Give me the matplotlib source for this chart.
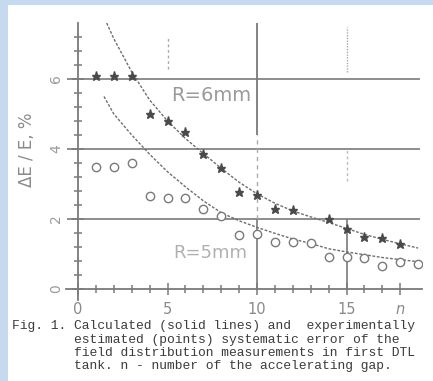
import matplotlib
matplotlib.use("Agg")
import matplotlib.pyplot as plt
from matplotlib.patches import Rectangle

# ---------------- data ----------------
star_n = [1, 2, 3, 4, 5, 6, 7, 8, 9, 10, 11, 12, 14, 15, 16, 17, 18]
star_v = [6.1, 6.1, 6.1, 5.0, 4.8, 4.5, 3.86, 3.45, 2.77, 2.7, 2.28, 2.25,
          2.0, 1.71, 1.49, 1.46, 1.29]

circ_n = [1, 2, 3, 4, 5, 6, 7, 8, 9, 10, 11, 12, 13, 14, 15, 16, 17, 18, 19]
circ_v = [3.49, 3.5, 3.6, 2.66, 2.6, 2.6, 2.28, 2.1, 1.54, 1.57, 1.34, 1.34,
          1.31, 0.91, 0.91, 0.89, 0.66, 0.77, 0.71]

calc6_n = [1.6, 2, 3, 4, 5, 6, 7, 8, 9, 10, 11, 12, 13, 14, 15, 16, 17, 18, 19]
calc6_v = [7.6, 7.15, 6.2, 5.4, 4.8, 4.3, 3.87, 3.45, 3.05, 2.72, 2.45, 2.23,
           2.06, 1.9, 1.73, 1.56, 1.42, 1.29, 1.17]

calc5_n = [1.45, 2, 3, 4, 5, 6, 7, 8, 9, 10, 11, 12, 13, 14, 15, 16, 17, 18, 19, 19.3]
calc5_v = [5.5, 5.0, 4.4, 3.85, 3.35, 2.92, 2.52, 2.18, 1.95, 1.76, 1.59, 1.43,
           1.3, 1.15, 1.06, 0.98, 0.9, 0.84, 0.78, 0.77]

x_ticks = [0, 5, 10, 15, 18]
x_ticklabels = ["0", "5", "10", "15", "n"]
y_ticks = [0, 2, 4, 6]
y_ticklabels = ["0", "2", "4", "6"]
ylabel = "ΔE / E, %"
label6 = "R=6mm"
label5 = "R=5mm"
caption = ["Fig. 1. Calculated (solid lines) and  experimentally",
           "        estimated (points) systematic error of the",
           "        field distribution measurements in first DTL",
           "        tank. n - number of the accelerating gap."]

# ---------------- figure ----------------
W, H = 433, 381
fig = plt.figure(figsize=(W / 100, H / 100), dpi=100)
fig.patch.set_facecolor("#c6d9ef")
fig.add_artist(Rectangle((8 / W, 0), 1, 1 - 5 / H, transform=fig.transFigure,
                         facecolor="white", edgecolor="none", zorder=0))

left, right, bottom, top = 65.5, 421.7, 299.5, 23
ax = fig.add_axes([left / W, 1 - bottom / H, (right - left) / W, (bottom - top) / H])
ax.set_facecolor("none")
ax.set_xlim(-0.7, 19.2)
ax.set_ylim(-0.3, 7.6)

gc = "#7a7a7a"
for s in ("top", "right"):
    ax.spines[s].set_visible(False)
ax.spines["left"].set_position(("data", 0))
ax.spines["bottom"].set_position(("data", 0))
for s in ("left", "bottom"):
    ax.spines[s].set_color(gc)
    ax.spines[s].set_linewidth(1.3)

ax.set_xticks(x_ticks)
ax.set_xticklabels(x_ticklabels)
ax.set_xticks(range(0, 19), minor=True)
ax.set_yticks(y_ticks)
ax.set_yticklabels(y_ticklabels, rotation=90, va="center")
ax.set_yticks([i * 0.4 for i in range(0, 19)], minor=True)
ax.tick_params(which="both", direction="inout", color=gc, width=1.1)
ax.tick_params(which="major", length=9)
ax.tick_params(which="minor", length=6)
ax.tick_params(axis="x", which="major", pad=4.5, labelsize=10.5, labelcolor="#8a8a8a")
ax.tick_params(axis="y", which="major", pad=6, labelsize=10, labelcolor="#9a9a9a")
ax.get_xticklabels()[-1].set_fontstyle("italic")

ax.set_ylabel(ylabel, fontsize=12, color="#8a8a8a", rotation=90)
ax.yaxis.set_label_coords(-0.083, 0.54)

# grid lines (as in the scan)
ax.hlines([2, 4, 6], -0.6, 19.1, color=gc, lw=1.2, zorder=1)
ax.vlines(10, 4.4, 7.6, color=gc, lw=1.3, zorder=1)
ax.vlines(10, 2.0, 4.4, color="#aaaaaa", lw=1.0, linestyles=(0, (3, 3)), zorder=1)
ax.vlines(10, 0, 2.0, color=gc, lw=1.2, zorder=1)
ax.vlines(15, 0, 2.0, color=gc, lw=1.2, zorder=1)
ax.vlines(15, 6.2, 7.5, color="#aaaaaa", lw=1.0, linestyles=(0, (1, 1)), zorder=1)
ax.vlines(15, 3.1, 4.0, color="#bbbbbb", lw=1.0, linestyles=(0, (2, 2)), zorder=1)
ax.vlines(5, 6.3, 7.2, color="#aaaaaa", lw=1.0, linestyles=(0, (2, 2)), zorder=1)

# calculated curves
ax.plot(calc6_n, calc6_v, color="#6e6e6e", lw=1.0, ls=(0, (2, 1.2)), zorder=2)
ax.plot(calc5_n, calc5_v, color="#6e6e6e", lw=1.0, ls=(0, (2, 1.2)), zorder=2)

# experimental points
ax.plot(star_n, star_v, ls="none", marker="*", ms=6.5, color="#4a4a4a", zorder=3)
ax.plot(circ_n, circ_v, ls="none", marker="o", ms=6, mfc="white", mec="#7a7a7a",
        mew=1.0, zorder=3)

ax.text(5.2, 5.54, label6, fontsize=14, color="#9a9a9a", va="center", ha="left")
ax.text(5.3, 1.03, label5, fontsize=13, color="#b0b0b0", va="center", ha="left")

# caption
for i, line in enumerate(caption):
    fig.text(12 / W, 1 - (326 + 13.5 * i) / H, line, family="Liberation Mono",
             fontsize=9.4, color="#3c3c3c", va="center", ha="left")

fig.savefig("out.png", dpi=100, facecolor=fig.get_facecolor())
